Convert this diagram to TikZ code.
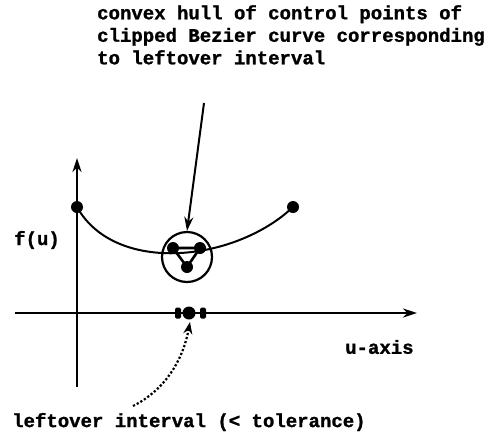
\documentclass[tikz,border=0pt]{standalone}
\usepackage{fontspec}
\setmonofont[BoldFeatures={FakeBold=1.2}]{Liberation Mono}
\usetikzlibrary{arrows.meta}
\tikzset{
  lbl/.style={font=\ttfamily\bfseries\fontsize{19}{22.5}\selectfont, inner sep=0pt, align=left},
  ax/.style={line width=2.4pt, -{Stealth[length=14pt,width=9pt]}},
  dotn/.style={circle, fill=black, inner sep=0pt, minimum size=#1},
  blob/.style={fill=black, rounded corners=1.5pt, minimum width=6pt, minimum height=11pt, inner sep=0pt},
}
\begin{document}
\begin{tikzpicture}[x=1pt,y=-1pt]
\useasboundingbox (0,0) rectangle (502,437);
% axes
\coordinate (vb) at (77,387);
\coordinate (vt) at (77,158);
\coordinate (hl) at (15,313);
\coordinate (hr) at (417,313);
\draw[ax] (vb) -- (vt);
\draw[ax] (hl) -- (hr);
% curve
\node[dotn=12pt] (p0) at (77,207) {};
\node[dotn=12pt] (p3) at (293,207) {};
\draw[line width=2pt] (p0.center) .. controls (115,275) and (235,262) .. (p3.center);
% circle and triangle
\node[circle, draw, line width=2.2pt, minimum size=50pt, inner sep=0pt] (hull) at (187,257) {};
\node[dotn=12pt] (t1) at (173,248) {};
\node[dotn=12pt] (t2) at (200,248) {};
\node[dotn=12pt] (t3) at (187,267) {};
\draw[line width=2.6pt] (t1.center) -- (t2.center) -- (t3.center) -- cycle;
% interval dots on axis
\node[dotn=13pt] (m) at (189,313) {};
\node[blob] (ml) at (178,313) {};
\node[blob] (mr) at (203,313) {};
% texts
\node[lbl, anchor=north west] (top) at (97,5) {convex hull of control points of\\clipped Bezier curve corresponding\\to leftover interval};
\node[lbl, anchor=west] (fu) at (14,240) {f(u)};
\node[lbl, anchor=west] (ua) at (345,347) {u-axis};
\node[lbl, anchor=west] (lo) at (12,422) {leftover interval (< tolerance)};
% arrows
\coordinate (a0) at (204,103);
\draw[line width=2pt, -{Stealth[length=14pt,width=9pt]}] (a0) -- (hull.north);
\coordinate (d0) at (133,406);
\draw[line width=2.2pt, dotted, -{Stealth[length=12pt,width=9pt]}] (d0) .. controls (165,390) and (183,360) .. (190,322);
\end{tikzpicture}
\end{document}
